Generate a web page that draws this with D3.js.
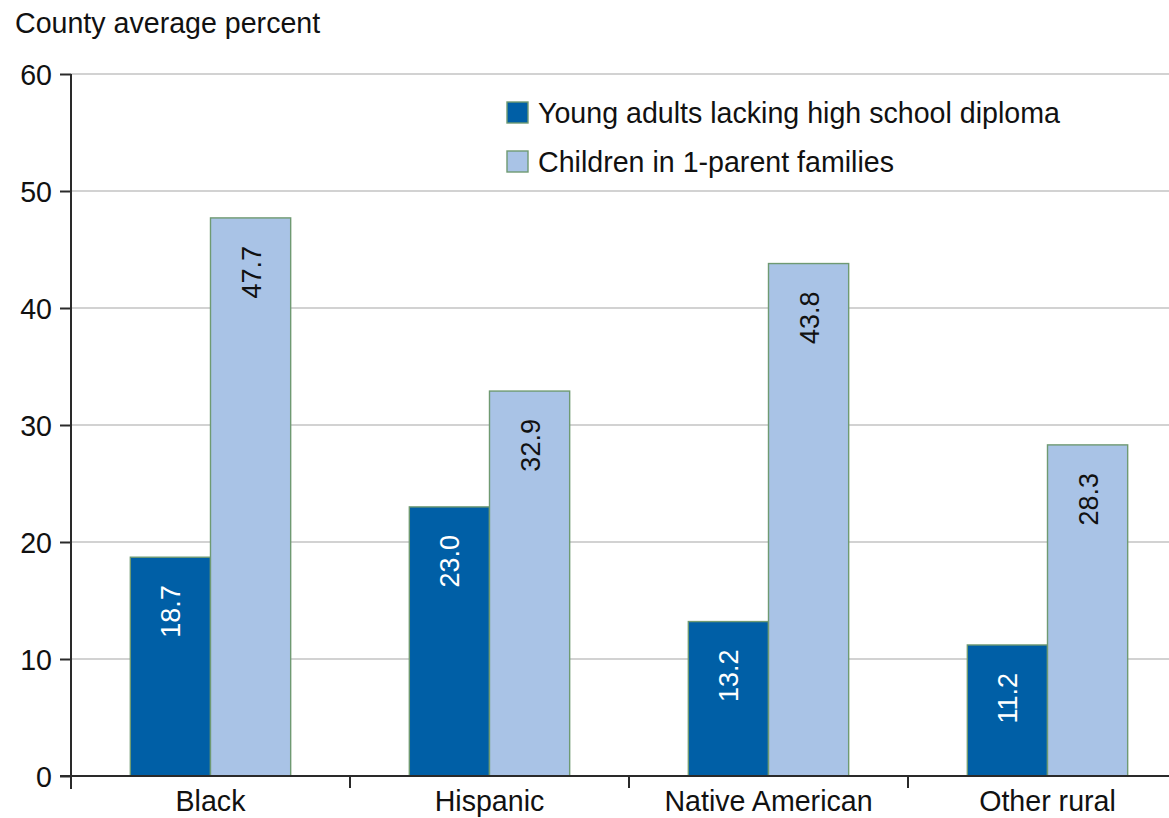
<!DOCTYPE html>
<html>
<head>
<meta charset="utf-8">
<script src="https://cdn.jsdelivr.net/npm/d3@7"></script>
<style>
  html, body { margin: 0; padding: 0; background: #fff; }
  svg { display: block; font-family: "Liberation Sans", Arial, Helvetica, sans-serif; }
</style>
</head>
<body>
<svg id="chart" width="1169" height="818"></svg>
<script>
// Rural county groups and their average percentages
const categories = ["Black", "Hispanic", "Native American", "Other rural"];
const seriesNames = ["Young adults lacking high school diploma", "Children in 1-parent families"];
const youngAdultsNoDiploma = [18.7, 23.0, 13.2, 11.2];
const childrenOneParent = [47.7, 32.9, 43.8, 28.3];
const yTicks = [0, 10, 20, 30, 40, 50, 60];
const seriesColors = ["#005fa6", "#a9c3e6"];
const labelColors = ["#ffffff", "#111111"];

const svg = d3.select("#chart");
const plotLeft = 71, plotRight = 1187, plotTop = 74, plotBottom = 776;
const textSize = 28.6;

const y = d3.scaleLinear().domain([0, 60]).range([plotBottom, plotTop]);
const x = d3.scaleBand().domain(categories).range([plotLeft, plotRight]).paddingInner(0).paddingOuter(0);
const inner = d3.scaleBand().domain(d3.range(seriesNames.length))
  .range([0, x.bandwidth()]).paddingOuter(0.74).paddingInner(0);

// Horizontal gridlines
svg.append("g")
  .selectAll("line")
  .data(yTicks.filter(t => t > 0))
  .join("line")
  .attr("x1", plotLeft).attr("x2", 1169)
  .attr("y1", d => y(d)).attr("y2", d => y(d))
  .attr("stroke", "#d2d2d2").attr("stroke-width", 2);

// Bars
const rows = categories.map((c, i) => ({ cat: c, vals: [youngAdultsNoDiploma[i], childrenOneParent[i]] }));
const groups = svg.append("g").selectAll("g")
  .data(rows).join("g")
  .attr("transform", d => `translate(${x(d.cat)},0)`);

groups.selectAll("rect")
  .data(d => d.vals.map((v, s) => ({ v, s })))
  .join("rect")
  .attr("x", d => inner(d.s))
  .attr("width", inner.bandwidth())
  .attr("y", d => y(d.v))
  .attr("height", d => y(0) - y(d.v))
  .attr("fill", d => seriesColors[d.s])
  .attr("stroke", "#6f9a72").attr("stroke-width", 1.4);

// Rotated value labels inside the bars
groups.selectAll("text")
  .data(d => d.vals.map((v, s) => ({ v, s })))
  .join("text")
  .attr("transform", d => `translate(${inner(d.s) + inner.bandwidth() / 2 + 10},${y(d.v) + 28}) rotate(-90)`)
  .attr("text-anchor", "end")
  .attr("font-size", 27)
  .attr("fill", d => labelColors[d.s])
  .text(d => d.v.toFixed(1));

// Y axis
const yAxis = svg.append("g")
  .attr("transform", `translate(${plotLeft},0)`)
  .call(d3.axisLeft(y).tickValues(yTicks).tickSize(11).tickPadding(8).tickSizeOuter(0));
yAxis.select(".domain").remove();
yAxis.append("line").attr("x1", 0).attr("x2", 0).attr("y1", plotTop).attr("y2", plotBottom + 13)
  .attr("stroke", "#2a2a2a").attr("stroke-width", 2);
yAxis.selectAll(".tick line").attr("stroke", "#2a2a2a").attr("stroke-width", 2);
yAxis.selectAll(".tick text").attr("font-size", textSize).attr("fill", "#111").attr("dy", "0.36em");

// X axis baseline and category separator ticks
svg.append("line").attr("x1", plotLeft - 11).attr("x2", 1169).attr("y1", plotBottom).attr("y2", plotBottom)
  .attr("stroke", "#2a2a2a").attr("stroke-width", 2);
svg.append("g").selectAll("line")
  .data(categories.slice(1))
  .join("line")
  .attr("x1", d => x(d)).attr("x2", d => x(d))
  .attr("y1", plotBottom).attr("y2", plotBottom + 12)
  .attr("stroke", "#2a2a2a").attr("stroke-width", 2);
svg.append("g").selectAll("text")
  .data(categories)
  .join("text")
  .attr("x", d => x(d) + x.bandwidth() / 2)
  .attr("y", plotBottom + 35)
  .attr("text-anchor", "middle")
  .attr("font-size", textSize)
  .attr("fill", "#111")
  .text(d => d);

// Axis title
svg.append("text").attr("x", 15).attr("y", 33)
  .attr("font-size", textSize).attr("fill", "#111")
  .text("County average percent");

// Legend
const legend = svg.append("g").attr("transform", "translate(507,102)");
const items = legend.selectAll("g").data(seriesNames).join("g")
  .attr("transform", (d, i) => `translate(0,${i * 49})`);
items.append("rect").attr("width", 21).attr("height", 21)
  .attr("fill", (d, i) => seriesColors[i])
  .attr("stroke", "#6f9a72").attr("stroke-width", 1.4);
items.append("text").attr("x", 31).attr("y", 21)
  .attr("font-size", textSize).attr("fill", "#111")
  .text(d => d);
</script>
</body>
</html>
